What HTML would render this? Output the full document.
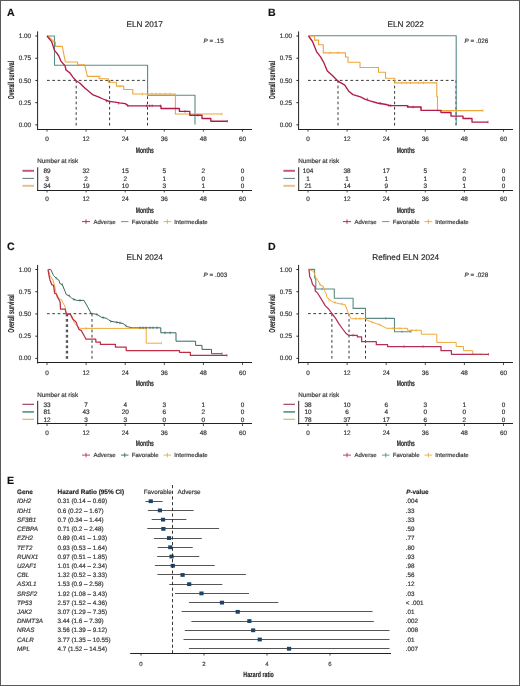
<!DOCTYPE html>
<html><head><meta charset="utf-8"><style>
html,body{margin:0;padding:0;background:#fff;}
svg{display:block;will-change:transform;text-rendering:geometricPrecision;}
svg text{stroke:#3a3a3a;stroke-width:0.18px;}
</style></head><body>
<svg width="520" height="686" viewBox="0 0 520 686" font-family='"Liberation Sans", sans-serif'>
<rect x="0" y="0" width="520" height="686" fill="#fff"/>
<g transform="translate(0,0)">
<text x="7" y="16.3" font-size="10.6" font-weight="bold" fill="#111">A</text>
<text x="144.7" y="26.8" font-size="8.2" text-anchor="middle" fill="#222">ELN 2017</text>
<text x="203.6" y="43.1" font-size="6.3" fill="#333"><tspan font-style="italic">P</tspan> = .15</text>
<path d="M37.6,31.4 V130" stroke="#222" stroke-width="1" fill="none"/>
<path d="M37.1,129.5 H252" stroke="#222" stroke-width="1" fill="none"/>
<path d="M35.4,36.00 H37.6" stroke="#222" stroke-width="1"/>
<text x="31.2" y="38.10" font-size="6.4" text-anchor="end" fill="#333">1.00</text>
<path d="M35.4,58.22 H37.6" stroke="#222" stroke-width="1"/>
<text x="31.2" y="60.32" font-size="6.4" text-anchor="end" fill="#333">0.75</text>
<path d="M35.4,80.44 H37.6" stroke="#222" stroke-width="1"/>
<text x="31.2" y="82.54" font-size="6.4" text-anchor="end" fill="#333">0.50</text>
<path d="M35.4,102.66 H37.6" stroke="#222" stroke-width="1"/>
<text x="31.2" y="104.76" font-size="6.4" text-anchor="end" fill="#333">0.25</text>
<path d="M35.4,124.88 H37.6" stroke="#222" stroke-width="1"/>
<text x="31.2" y="126.98" font-size="6.4" text-anchor="end" fill="#333">0.00</text>
<path d="M47.00,129.5 V131.6" stroke="#222" stroke-width="0.8"/>
<text x="47.00" y="141.0" font-size="6.4" text-anchor="middle" fill="#333">0</text>
<path d="M86.10,129.5 V131.6" stroke="#222" stroke-width="0.8"/>
<text x="86.10" y="141.0" font-size="6.4" text-anchor="middle" fill="#333">12</text>
<path d="M125.19,129.5 V131.6" stroke="#222" stroke-width="0.8"/>
<text x="125.19" y="141.0" font-size="6.4" text-anchor="middle" fill="#333">24</text>
<path d="M164.29,129.5 V131.6" stroke="#222" stroke-width="0.8"/>
<text x="164.29" y="141.0" font-size="6.4" text-anchor="middle" fill="#333">36</text>
<path d="M203.38,129.5 V131.6" stroke="#222" stroke-width="0.8"/>
<text x="203.38" y="141.0" font-size="6.4" text-anchor="middle" fill="#333">48</text>
<path d="M242.48,129.5 V131.6" stroke="#222" stroke-width="0.8"/>
<text x="242.48" y="141.0" font-size="6.4" text-anchor="middle" fill="#333">60</text>
<text x="144.8" y="152.7" font-size="8" font-weight="bold" text-anchor="middle" fill="#222" textLength="18" lengthAdjust="spacingAndGlyphs">Months</text>
<text transform="translate(14.2,80.1) rotate(-90)" x="0" y="0" font-size="8.6" font-weight="bold" text-anchor="middle" fill="#222" textLength="38.4" lengthAdjust="spacingAndGlyphs">Overall survival</text>
<text x="37.2" y="163.1" font-size="6.3" fill="#333">Number at risk</text>
<path d="M37.7,167.3 V190.9" stroke="#222" stroke-width="1" fill="none"/>
<path d="M37.2,190.5 H252" stroke="#222" stroke-width="1" fill="none"/>
<path d="M22.4,170.8 H34" stroke="#c45a7c" stroke-width="2.0"/>
<text x="47.00" y="173.00" font-size="6.4" text-anchor="middle" fill="#2a2a2a">89</text>
<text x="86.10" y="173.00" font-size="6.4" text-anchor="middle" fill="#2a2a2a">32</text>
<text x="125.19" y="173.00" font-size="6.4" text-anchor="middle" fill="#2a2a2a">15</text>
<text x="164.29" y="173.00" font-size="6.4" text-anchor="middle" fill="#2a2a2a">5</text>
<text x="203.38" y="173.00" font-size="6.4" text-anchor="middle" fill="#2a2a2a">2</text>
<text x="242.48" y="173.00" font-size="6.4" text-anchor="middle" fill="#2a2a2a">0</text>
<path d="M22.4,178.4 H34" stroke="#4f6a6c" stroke-width="0.9"/>
<text x="47.00" y="180.60" font-size="6.4" text-anchor="middle" fill="#2a2a2a">3</text>
<text x="86.10" y="180.60" font-size="6.4" text-anchor="middle" fill="#2a2a2a">2</text>
<text x="125.19" y="180.60" font-size="6.4" text-anchor="middle" fill="#2a2a2a">2</text>
<text x="164.29" y="180.60" font-size="6.4" text-anchor="middle" fill="#2a2a2a">1</text>
<text x="203.38" y="180.60" font-size="6.4" text-anchor="middle" fill="#2a2a2a">0</text>
<text x="242.48" y="180.60" font-size="6.4" text-anchor="middle" fill="#2a2a2a">0</text>
<path d="M22.4,185.8 H34" stroke="#e4c08e" stroke-width="2.0"/>
<text x="47.00" y="188.00" font-size="6.4" text-anchor="middle" fill="#2a2a2a">34</text>
<text x="86.10" y="188.00" font-size="6.4" text-anchor="middle" fill="#2a2a2a">19</text>
<text x="125.19" y="188.00" font-size="6.4" text-anchor="middle" fill="#2a2a2a">10</text>
<text x="164.29" y="188.00" font-size="6.4" text-anchor="middle" fill="#2a2a2a">3</text>
<text x="203.38" y="188.00" font-size="6.4" text-anchor="middle" fill="#2a2a2a">1</text>
<text x="242.48" y="188.00" font-size="6.4" text-anchor="middle" fill="#2a2a2a">0</text>
<path d="M47.00,190.4 V192.5" stroke="#222" stroke-width="0.8"/>
<text x="47.00" y="201.4" font-size="6.4" text-anchor="middle" fill="#333">0</text>
<path d="M86.10,190.4 V192.5" stroke="#222" stroke-width="0.8"/>
<text x="86.10" y="201.4" font-size="6.4" text-anchor="middle" fill="#333">12</text>
<path d="M125.19,190.4 V192.5" stroke="#222" stroke-width="0.8"/>
<text x="125.19" y="201.4" font-size="6.4" text-anchor="middle" fill="#333">24</text>
<path d="M164.29,190.4 V192.5" stroke="#222" stroke-width="0.8"/>
<text x="164.29" y="201.4" font-size="6.4" text-anchor="middle" fill="#333">36</text>
<path d="M203.38,190.4 V192.5" stroke="#222" stroke-width="0.8"/>
<text x="203.38" y="201.4" font-size="6.4" text-anchor="middle" fill="#333">48</text>
<path d="M242.48,190.4 V192.5" stroke="#222" stroke-width="0.8"/>
<text x="242.48" y="201.4" font-size="6.4" text-anchor="middle" fill="#333">60</text>
<text x="144.8" y="212.9" font-size="8" font-weight="bold" text-anchor="middle" fill="#222" textLength="18" lengthAdjust="spacingAndGlyphs">Months</text>
<path d="M82,221.6 H90 M86,219.4 V223.79999999999998" stroke="#b11c46" stroke-width="0.9"/>
<text x="93.5" y="223.7" font-size="6" fill="#333">Adverse</text>
<path d="M121,221.6 H128.5" stroke="#5a8c86" stroke-width="0.9"/>
<text x="131.8" y="223.7" font-size="6" fill="#333">Favorable</text>
<path d="M163.5,221.6 H171.2 M167.35,219.4 V223.79999999999998" stroke="#eea53a" stroke-width="0.9"/>
<text x="174.3" y="223.7" font-size="6" fill="#333">Intermediate</text>
</g>
<g transform="translate(261,0)">
<text x="7" y="16.3" font-size="10.6" font-weight="bold" fill="#111">B</text>
<text x="144.7" y="26.8" font-size="8.2" text-anchor="middle" fill="#222">ELN 2022</text>
<text x="203.6" y="43.1" font-size="6.3" fill="#333"><tspan font-style="italic">P</tspan> = .026</text>
<path d="M37.6,31.4 V130" stroke="#222" stroke-width="1" fill="none"/>
<path d="M37.1,129.5 H252" stroke="#222" stroke-width="1" fill="none"/>
<path d="M35.4,36.00 H37.6" stroke="#222" stroke-width="1"/>
<text x="31.2" y="38.10" font-size="6.4" text-anchor="end" fill="#333">1.00</text>
<path d="M35.4,58.22 H37.6" stroke="#222" stroke-width="1"/>
<text x="31.2" y="60.32" font-size="6.4" text-anchor="end" fill="#333">0.75</text>
<path d="M35.4,80.44 H37.6" stroke="#222" stroke-width="1"/>
<text x="31.2" y="82.54" font-size="6.4" text-anchor="end" fill="#333">0.50</text>
<path d="M35.4,102.66 H37.6" stroke="#222" stroke-width="1"/>
<text x="31.2" y="104.76" font-size="6.4" text-anchor="end" fill="#333">0.25</text>
<path d="M35.4,124.88 H37.6" stroke="#222" stroke-width="1"/>
<text x="31.2" y="126.98" font-size="6.4" text-anchor="end" fill="#333">0.00</text>
<path d="M47.00,129.5 V131.6" stroke="#222" stroke-width="0.8"/>
<text x="47.00" y="141.0" font-size="6.4" text-anchor="middle" fill="#333">0</text>
<path d="M86.10,129.5 V131.6" stroke="#222" stroke-width="0.8"/>
<text x="86.10" y="141.0" font-size="6.4" text-anchor="middle" fill="#333">12</text>
<path d="M125.19,129.5 V131.6" stroke="#222" stroke-width="0.8"/>
<text x="125.19" y="141.0" font-size="6.4" text-anchor="middle" fill="#333">24</text>
<path d="M164.29,129.5 V131.6" stroke="#222" stroke-width="0.8"/>
<text x="164.29" y="141.0" font-size="6.4" text-anchor="middle" fill="#333">36</text>
<path d="M203.38,129.5 V131.6" stroke="#222" stroke-width="0.8"/>
<text x="203.38" y="141.0" font-size="6.4" text-anchor="middle" fill="#333">48</text>
<path d="M242.48,129.5 V131.6" stroke="#222" stroke-width="0.8"/>
<text x="242.48" y="141.0" font-size="6.4" text-anchor="middle" fill="#333">60</text>
<text x="144.8" y="152.7" font-size="8" font-weight="bold" text-anchor="middle" fill="#222" textLength="18" lengthAdjust="spacingAndGlyphs">Months</text>
<text transform="translate(14.2,80.1) rotate(-90)" x="0" y="0" font-size="8.6" font-weight="bold" text-anchor="middle" fill="#222" textLength="38.4" lengthAdjust="spacingAndGlyphs">Overall survival</text>
<text x="37.2" y="163.1" font-size="6.3" fill="#333">Number at risk</text>
<path d="M37.7,167.3 V190.9" stroke="#222" stroke-width="1" fill="none"/>
<path d="M37.2,190.5 H252" stroke="#222" stroke-width="1" fill="none"/>
<path d="M22.4,170.8 H34" stroke="#c45a7c" stroke-width="2.0"/>
<text x="47.00" y="173.00" font-size="6.4" text-anchor="middle" fill="#2a2a2a">104</text>
<text x="86.10" y="173.00" font-size="6.4" text-anchor="middle" fill="#2a2a2a">38</text>
<text x="125.19" y="173.00" font-size="6.4" text-anchor="middle" fill="#2a2a2a">17</text>
<text x="164.29" y="173.00" font-size="6.4" text-anchor="middle" fill="#2a2a2a">5</text>
<text x="203.38" y="173.00" font-size="6.4" text-anchor="middle" fill="#2a2a2a">2</text>
<text x="242.48" y="173.00" font-size="6.4" text-anchor="middle" fill="#2a2a2a">0</text>
<path d="M22.4,178.4 H34" stroke="#4f6a6c" stroke-width="0.9"/>
<text x="47.00" y="180.60" font-size="6.4" text-anchor="middle" fill="#2a2a2a">1</text>
<text x="86.10" y="180.60" font-size="6.4" text-anchor="middle" fill="#2a2a2a">1</text>
<text x="125.19" y="180.60" font-size="6.4" text-anchor="middle" fill="#2a2a2a">1</text>
<text x="164.29" y="180.60" font-size="6.4" text-anchor="middle" fill="#2a2a2a">1</text>
<text x="203.38" y="180.60" font-size="6.4" text-anchor="middle" fill="#2a2a2a">0</text>
<text x="242.48" y="180.60" font-size="6.4" text-anchor="middle" fill="#2a2a2a">0</text>
<path d="M22.4,185.8 H34" stroke="#e4c08e" stroke-width="2.0"/>
<text x="47.00" y="188.00" font-size="6.4" text-anchor="middle" fill="#2a2a2a">21</text>
<text x="86.10" y="188.00" font-size="6.4" text-anchor="middle" fill="#2a2a2a">14</text>
<text x="125.19" y="188.00" font-size="6.4" text-anchor="middle" fill="#2a2a2a">9</text>
<text x="164.29" y="188.00" font-size="6.4" text-anchor="middle" fill="#2a2a2a">3</text>
<text x="203.38" y="188.00" font-size="6.4" text-anchor="middle" fill="#2a2a2a">1</text>
<text x="242.48" y="188.00" font-size="6.4" text-anchor="middle" fill="#2a2a2a">0</text>
<path d="M47.00,190.4 V192.5" stroke="#222" stroke-width="0.8"/>
<text x="47.00" y="201.4" font-size="6.4" text-anchor="middle" fill="#333">0</text>
<path d="M86.10,190.4 V192.5" stroke="#222" stroke-width="0.8"/>
<text x="86.10" y="201.4" font-size="6.4" text-anchor="middle" fill="#333">12</text>
<path d="M125.19,190.4 V192.5" stroke="#222" stroke-width="0.8"/>
<text x="125.19" y="201.4" font-size="6.4" text-anchor="middle" fill="#333">24</text>
<path d="M164.29,190.4 V192.5" stroke="#222" stroke-width="0.8"/>
<text x="164.29" y="201.4" font-size="6.4" text-anchor="middle" fill="#333">36</text>
<path d="M203.38,190.4 V192.5" stroke="#222" stroke-width="0.8"/>
<text x="203.38" y="201.4" font-size="6.4" text-anchor="middle" fill="#333">48</text>
<path d="M242.48,190.4 V192.5" stroke="#222" stroke-width="0.8"/>
<text x="242.48" y="201.4" font-size="6.4" text-anchor="middle" fill="#333">60</text>
<text x="144.8" y="212.9" font-size="8" font-weight="bold" text-anchor="middle" fill="#222" textLength="18" lengthAdjust="spacingAndGlyphs">Months</text>
<path d="M82,221.6 H90 M86,219.4 V223.79999999999998" stroke="#b11c46" stroke-width="0.9"/>
<text x="93.5" y="223.7" font-size="6" fill="#333">Adverse</text>
<path d="M121,221.6 H128.5" stroke="#5a8c86" stroke-width="0.9"/>
<text x="131.8" y="223.7" font-size="6" fill="#333">Favorable</text>
<path d="M163.5,221.6 H171.2 M167.35,219.4 V223.79999999999998" stroke="#eea53a" stroke-width="0.9"/>
<text x="174.3" y="223.7" font-size="6" fill="#333">Intermediate</text>
</g>
<g transform="translate(0,233.5)">
<text x="7" y="16.3" font-size="10.6" font-weight="bold" fill="#111">C</text>
<text x="144.7" y="26.8" font-size="8.2" text-anchor="middle" fill="#222">ELN 2024</text>
<text x="203.6" y="43.1" font-size="6.3" fill="#333"><tspan font-style="italic">P</tspan> = .003</text>
<path d="M37.6,31.4 V130" stroke="#222" stroke-width="1" fill="none"/>
<path d="M37.1,129.0 H252" stroke="#222" stroke-width="1" fill="none"/>
<path d="M35.4,36.00 H37.6" stroke="#222" stroke-width="1"/>
<text x="31.2" y="38.10" font-size="6.4" text-anchor="end" fill="#333">1.00</text>
<path d="M35.4,58.22 H37.6" stroke="#222" stroke-width="1"/>
<text x="31.2" y="60.32" font-size="6.4" text-anchor="end" fill="#333">0.75</text>
<path d="M35.4,80.44 H37.6" stroke="#222" stroke-width="1"/>
<text x="31.2" y="82.54" font-size="6.4" text-anchor="end" fill="#333">0.50</text>
<path d="M35.4,102.66 H37.6" stroke="#222" stroke-width="1"/>
<text x="31.2" y="104.76" font-size="6.4" text-anchor="end" fill="#333">0.25</text>
<path d="M35.4,124.88 H37.6" stroke="#222" stroke-width="1"/>
<text x="31.2" y="126.98" font-size="6.4" text-anchor="end" fill="#333">0.00</text>
<path d="M47.00,129.5 V131.6" stroke="#222" stroke-width="0.8"/>
<text x="47.00" y="141.0" font-size="6.4" text-anchor="middle" fill="#333">0</text>
<path d="M86.10,129.5 V131.6" stroke="#222" stroke-width="0.8"/>
<text x="86.10" y="141.0" font-size="6.4" text-anchor="middle" fill="#333">12</text>
<path d="M125.19,129.5 V131.6" stroke="#222" stroke-width="0.8"/>
<text x="125.19" y="141.0" font-size="6.4" text-anchor="middle" fill="#333">24</text>
<path d="M164.29,129.5 V131.6" stroke="#222" stroke-width="0.8"/>
<text x="164.29" y="141.0" font-size="6.4" text-anchor="middle" fill="#333">36</text>
<path d="M203.38,129.5 V131.6" stroke="#222" stroke-width="0.8"/>
<text x="203.38" y="141.0" font-size="6.4" text-anchor="middle" fill="#333">48</text>
<path d="M242.48,129.5 V131.6" stroke="#222" stroke-width="0.8"/>
<text x="242.48" y="141.0" font-size="6.4" text-anchor="middle" fill="#333">60</text>
<text x="144.8" y="152.7" font-size="8" font-weight="bold" text-anchor="middle" fill="#222" textLength="18" lengthAdjust="spacingAndGlyphs">Months</text>
<text transform="translate(14.2,80.1) rotate(-90)" x="0" y="0" font-size="8.6" font-weight="bold" text-anchor="middle" fill="#222" textLength="38.4" lengthAdjust="spacingAndGlyphs">Overall survival</text>
<text x="37.2" y="163.1" font-size="6.3" fill="#333">Number at risk</text>
<path d="M37.7,167.3 V190.9" stroke="#222" stroke-width="1" fill="none"/>
<path d="M37.2,190.0 H252" stroke="#222" stroke-width="1" fill="none"/>
<path d="M22.4,170.8 H34" stroke="#9a3553" stroke-width="1.1"/>
<text x="47.00" y="173.00" font-size="6.4" text-anchor="middle" fill="#2a2a2a">33</text>
<text x="86.10" y="173.00" font-size="6.4" text-anchor="middle" fill="#2a2a2a">7</text>
<text x="125.19" y="173.00" font-size="6.4" text-anchor="middle" fill="#2a2a2a">4</text>
<text x="164.29" y="173.00" font-size="6.4" text-anchor="middle" fill="#2a2a2a">3</text>
<text x="203.38" y="173.00" font-size="6.4" text-anchor="middle" fill="#2a2a2a">1</text>
<text x="242.48" y="173.00" font-size="6.4" text-anchor="middle" fill="#2a2a2a">0</text>
<path d="M22.4,178.4 H34" stroke="#5f968c" stroke-width="1.7"/>
<text x="47.00" y="180.60" font-size="6.4" text-anchor="middle" fill="#2a2a2a">81</text>
<text x="86.10" y="180.60" font-size="6.4" text-anchor="middle" fill="#2a2a2a">43</text>
<text x="125.19" y="180.60" font-size="6.4" text-anchor="middle" fill="#2a2a2a">20</text>
<text x="164.29" y="180.60" font-size="6.4" text-anchor="middle" fill="#2a2a2a">6</text>
<text x="203.38" y="180.60" font-size="6.4" text-anchor="middle" fill="#2a2a2a">2</text>
<text x="242.48" y="180.60" font-size="6.4" text-anchor="middle" fill="#2a2a2a">0</text>
<path d="M22.4,185.8 H34" stroke="#d4b060" stroke-width="1.1"/>
<text x="47.00" y="188.00" font-size="6.4" text-anchor="middle" fill="#2a2a2a">12</text>
<text x="86.10" y="188.00" font-size="6.4" text-anchor="middle" fill="#2a2a2a">3</text>
<text x="125.19" y="188.00" font-size="6.4" text-anchor="middle" fill="#2a2a2a">3</text>
<text x="164.29" y="188.00" font-size="6.4" text-anchor="middle" fill="#2a2a2a">0</text>
<text x="203.38" y="188.00" font-size="6.4" text-anchor="middle" fill="#2a2a2a">0</text>
<text x="242.48" y="188.00" font-size="6.4" text-anchor="middle" fill="#2a2a2a">0</text>
<path d="M47.00,190.4 V192.5" stroke="#222" stroke-width="0.8"/>
<text x="47.00" y="201.4" font-size="6.4" text-anchor="middle" fill="#333">0</text>
<path d="M86.10,190.4 V192.5" stroke="#222" stroke-width="0.8"/>
<text x="86.10" y="201.4" font-size="6.4" text-anchor="middle" fill="#333">12</text>
<path d="M125.19,190.4 V192.5" stroke="#222" stroke-width="0.8"/>
<text x="125.19" y="201.4" font-size="6.4" text-anchor="middle" fill="#333">24</text>
<path d="M164.29,190.4 V192.5" stroke="#222" stroke-width="0.8"/>
<text x="164.29" y="201.4" font-size="6.4" text-anchor="middle" fill="#333">36</text>
<path d="M203.38,190.4 V192.5" stroke="#222" stroke-width="0.8"/>
<text x="203.38" y="201.4" font-size="6.4" text-anchor="middle" fill="#333">48</text>
<path d="M242.48,190.4 V192.5" stroke="#222" stroke-width="0.8"/>
<text x="242.48" y="201.4" font-size="6.4" text-anchor="middle" fill="#333">60</text>
<text x="144.8" y="212.9" font-size="8" font-weight="bold" text-anchor="middle" fill="#222" textLength="18" lengthAdjust="spacingAndGlyphs">Months</text>
<path d="M82,221.6 H90 M86,219.4 V223.79999999999998" stroke="#bd2f47" stroke-width="0.9"/>
<text x="93.5" y="223.7" font-size="6" fill="#333">Adverse</text>
<path d="M121,221.6 H128.5 M124.75,219.4 V223.79999999999998" stroke="#36675e" stroke-width="0.9"/>
<text x="131.8" y="223.7" font-size="6" fill="#333">Favorable</text>
<path d="M163.5,221.6 H171.2 M167.35,219.4 V223.79999999999998" stroke="#f0aa3a" stroke-width="0.9"/>
<text x="174.3" y="223.7" font-size="6" fill="#333">Intermediate</text>
</g>
<g transform="translate(261,233.5)">
<text x="7" y="16.3" font-size="10.6" font-weight="bold" fill="#111">D</text>
<text x="144.7" y="26.8" font-size="8.2" text-anchor="middle" fill="#222">Refined ELN 2024</text>
<text x="203.6" y="43.1" font-size="6.3" fill="#333"><tspan font-style="italic">P</tspan> = .028</text>
<path d="M37.6,31.4 V130" stroke="#222" stroke-width="1" fill="none"/>
<path d="M37.1,129.0 H252" stroke="#222" stroke-width="1" fill="none"/>
<path d="M35.4,36.00 H37.6" stroke="#222" stroke-width="1"/>
<text x="31.2" y="38.10" font-size="6.4" text-anchor="end" fill="#333">1.00</text>
<path d="M35.4,58.22 H37.6" stroke="#222" stroke-width="1"/>
<text x="31.2" y="60.32" font-size="6.4" text-anchor="end" fill="#333">0.75</text>
<path d="M35.4,80.44 H37.6" stroke="#222" stroke-width="1"/>
<text x="31.2" y="82.54" font-size="6.4" text-anchor="end" fill="#333">0.50</text>
<path d="M35.4,102.66 H37.6" stroke="#222" stroke-width="1"/>
<text x="31.2" y="104.76" font-size="6.4" text-anchor="end" fill="#333">0.25</text>
<path d="M35.4,124.88 H37.6" stroke="#222" stroke-width="1"/>
<text x="31.2" y="126.98" font-size="6.4" text-anchor="end" fill="#333">0.00</text>
<path d="M47.00,129.5 V131.6" stroke="#222" stroke-width="0.8"/>
<text x="47.00" y="141.0" font-size="6.4" text-anchor="middle" fill="#333">0</text>
<path d="M86.10,129.5 V131.6" stroke="#222" stroke-width="0.8"/>
<text x="86.10" y="141.0" font-size="6.4" text-anchor="middle" fill="#333">12</text>
<path d="M125.19,129.5 V131.6" stroke="#222" stroke-width="0.8"/>
<text x="125.19" y="141.0" font-size="6.4" text-anchor="middle" fill="#333">24</text>
<path d="M164.29,129.5 V131.6" stroke="#222" stroke-width="0.8"/>
<text x="164.29" y="141.0" font-size="6.4" text-anchor="middle" fill="#333">36</text>
<path d="M203.38,129.5 V131.6" stroke="#222" stroke-width="0.8"/>
<text x="203.38" y="141.0" font-size="6.4" text-anchor="middle" fill="#333">48</text>
<path d="M242.48,129.5 V131.6" stroke="#222" stroke-width="0.8"/>
<text x="242.48" y="141.0" font-size="6.4" text-anchor="middle" fill="#333">60</text>
<text x="144.8" y="152.7" font-size="8" font-weight="bold" text-anchor="middle" fill="#222" textLength="18" lengthAdjust="spacingAndGlyphs">Months</text>
<text transform="translate(14.2,80.1) rotate(-90)" x="0" y="0" font-size="8.6" font-weight="bold" text-anchor="middle" fill="#222" textLength="38.4" lengthAdjust="spacingAndGlyphs">Overall survival</text>
<text x="37.2" y="163.1" font-size="6.3" fill="#333">Number at risk</text>
<path d="M37.7,167.3 V190.9" stroke="#222" stroke-width="1" fill="none"/>
<path d="M37.2,190.0 H252" stroke="#222" stroke-width="1" fill="none"/>
<path d="M22.4,170.8 H34" stroke="#9a3553" stroke-width="1.1"/>
<text x="47.00" y="173.00" font-size="6.4" text-anchor="middle" fill="#2a2a2a">38</text>
<text x="86.10" y="173.00" font-size="6.4" text-anchor="middle" fill="#2a2a2a">10</text>
<text x="125.19" y="173.00" font-size="6.4" text-anchor="middle" fill="#2a2a2a">6</text>
<text x="164.29" y="173.00" font-size="6.4" text-anchor="middle" fill="#2a2a2a">3</text>
<text x="203.38" y="173.00" font-size="6.4" text-anchor="middle" fill="#2a2a2a">1</text>
<text x="242.48" y="173.00" font-size="6.4" text-anchor="middle" fill="#2a2a2a">0</text>
<path d="M22.4,178.4 H34" stroke="#5f968c" stroke-width="1.7"/>
<text x="47.00" y="180.60" font-size="6.4" text-anchor="middle" fill="#2a2a2a">10</text>
<text x="86.10" y="180.60" font-size="6.4" text-anchor="middle" fill="#2a2a2a">6</text>
<text x="125.19" y="180.60" font-size="6.4" text-anchor="middle" fill="#2a2a2a">4</text>
<text x="164.29" y="180.60" font-size="6.4" text-anchor="middle" fill="#2a2a2a">0</text>
<text x="203.38" y="180.60" font-size="6.4" text-anchor="middle" fill="#2a2a2a">0</text>
<text x="242.48" y="180.60" font-size="6.4" text-anchor="middle" fill="#2a2a2a">0</text>
<path d="M22.4,185.8 H34" stroke="#d4b060" stroke-width="1.1"/>
<text x="47.00" y="188.00" font-size="6.4" text-anchor="middle" fill="#2a2a2a">78</text>
<text x="86.10" y="188.00" font-size="6.4" text-anchor="middle" fill="#2a2a2a">37</text>
<text x="125.19" y="188.00" font-size="6.4" text-anchor="middle" fill="#2a2a2a">17</text>
<text x="164.29" y="188.00" font-size="6.4" text-anchor="middle" fill="#2a2a2a">6</text>
<text x="203.38" y="188.00" font-size="6.4" text-anchor="middle" fill="#2a2a2a">2</text>
<text x="242.48" y="188.00" font-size="6.4" text-anchor="middle" fill="#2a2a2a">0</text>
<path d="M47.00,190.4 V192.5" stroke="#222" stroke-width="0.8"/>
<text x="47.00" y="201.4" font-size="6.4" text-anchor="middle" fill="#333">0</text>
<path d="M86.10,190.4 V192.5" stroke="#222" stroke-width="0.8"/>
<text x="86.10" y="201.4" font-size="6.4" text-anchor="middle" fill="#333">12</text>
<path d="M125.19,190.4 V192.5" stroke="#222" stroke-width="0.8"/>
<text x="125.19" y="201.4" font-size="6.4" text-anchor="middle" fill="#333">24</text>
<path d="M164.29,190.4 V192.5" stroke="#222" stroke-width="0.8"/>
<text x="164.29" y="201.4" font-size="6.4" text-anchor="middle" fill="#333">36</text>
<path d="M203.38,190.4 V192.5" stroke="#222" stroke-width="0.8"/>
<text x="203.38" y="201.4" font-size="6.4" text-anchor="middle" fill="#333">48</text>
<path d="M242.48,190.4 V192.5" stroke="#222" stroke-width="0.8"/>
<text x="242.48" y="201.4" font-size="6.4" text-anchor="middle" fill="#333">60</text>
<text x="144.8" y="212.9" font-size="8" font-weight="bold" text-anchor="middle" fill="#222" textLength="18" lengthAdjust="spacingAndGlyphs">Months</text>
<path d="M82,221.6 H90 M86,219.4 V223.79999999999998" stroke="#b3305a" stroke-width="0.9"/>
<text x="93.5" y="223.7" font-size="6" fill="#333">Adverse</text>
<path d="M121,221.6 H128.5 M124.75,219.4 V223.79999999999998" stroke="#5b8a86" stroke-width="0.9"/>
<text x="131.8" y="223.7" font-size="6" fill="#333">Favorable</text>
<path d="M163.5,221.6 H171.2 M167.35,219.4 V223.79999999999998" stroke="#f0a935" stroke-width="0.9"/>
<text x="174.3" y="223.7" font-size="6" fill="#333">Intermediate</text>
</g>
<path d="M47,80.4 H147.5 M76.2,80.4 V125.5 M109.6,80.4 V125.5 M147.5,80.4 V125.5" stroke="#222" stroke-width="0.9" fill="none" stroke-dasharray="2.7,2.6"/>
<path d="M47,36 H54.5 V65.3 H147.6 V95.3 H195 V124.6" stroke="#5a8c86" stroke-width="1.1" fill="none" stroke-linejoin="round"/>
<path d="M47,36 H49 V38 H51 V40 H53 V42 H55.5 V46.4 H62.3 L65.3,62 H77.6 V64.7 H84.6 L87.4,76.4 H99 V78.8 H108.4 V82.2 H116.4 V86.1 H123.7 V89.5 H132.8 V94 H175.4 V114 H222" stroke="#eea53a" stroke-width="1.1" fill="none" stroke-linejoin="round"/>
<path d="M47.0,36.0 L51.6,41.6 L54.5,50.3 L56.4,52.7 L58.8,56.0 L60.8,60.8 L62.7,63.2 L65.0,65.6 L66.0,70.0 L69.9,72.9 L72.9,77.1 L75.8,80.5 L80.0,83.2 L85.1,88.3 L88.7,91.2 L93.1,94.9 L99.0,97.1 L101.9,98.5 L105.5,100.0 L109.2,101.4 L115.0,102.2 L119.4,102.9 L125.2,103.6 L128.1,105.8 H161 V108.5 H179.4 V111.4 H189.8 V115.2 H202 V118.5 H210.8 V121.2 H227.4" stroke="#b11c46" stroke-width="1.35" fill="none" stroke-linejoin="round"/>
<path d="M227.4,119.9 V122.5 M106.4,99.7 V102.3 M109.7,100.3 V102.9 M118.7,102.0 V104.6 M127.7,104.3 V106.9 M146.5,104.5 V107.1 M149.7,104.5 V107.1 M152.2,104.5 V107.1 M160.4,104.5 V107.1 M185.0,110.1 V112.7 M198.0,113.9 V116.5" stroke="#b11c46" stroke-width="0.7" fill="none"/>
<path d="M222.0,112.7 V115.3 M142.4,92.7 V95.3 M147.3,92.7 V95.3 M152.0,92.7 V95.3 M156.0,92.7 V95.3 M160.0,92.7 V95.3 M165.0,92.7 V95.3 M170.0,92.7 V95.3 M100.0,75.1 V77.7 M120.0,84.8 V87.4" stroke="#eea53a" stroke-width="0.7" fill="none"/>
<path d="M308,80.4 H456 M338,80.4 V125.5 M394.6,80.4 V125.5 M456,80.4 V125.5" stroke="#222" stroke-width="0.9" fill="none" stroke-dasharray="2.7,2.6"/>
<path d="M308.5,35.8 H456.2 V124.9" stroke="#5a8c86" stroke-width="1.1" fill="none" stroke-linejoin="round"/>
<path d="M308.5,36 H314.5 V40.1 H318.6 V44.8 H323.3 V52.9 H345.5 V57 H348 V62.3 H360 V67.5 H378.5 V72.3 H385.5 V78.2 H394.8 V82.9 H436.8 V96.5 H437.5 V110.6 H483" stroke="#eea53a" stroke-width="1.1" fill="none" stroke-linejoin="round"/>
<path d="M308.5,36.0 L312.5,41.5 L316.5,51.6 L320.6,56.9 L324.0,63.0 L327.3,71.0 L332.7,75.8 L338.0,81.2 L344.8,85.2 L348.8,91.3 L352.9,94.6 L359.6,96.6 L361.0,97.1 L365.4,99.3 L369.9,100.8 L377.3,103.0 L386.2,104.5 L389.2,105.6 H407.5 V107 H421 V110.3 H441 V112.5 H451 V116.1 H463 V118.5 H472 V122.1 H488" stroke="#b11c46" stroke-width="1.35" fill="none" stroke-linejoin="round"/>
<path d="M367.3,97.7 V100.3 M380.3,102.1 V104.7 M388.9,104.1 V106.7 M390.7,104.3 V106.9 M408.0,105.1 V107.7 M413.1,105.7 V108.3 M421.0,106.7 V109.3 M488.0,120.8 V123.4" stroke="#b11c46" stroke-width="0.7" fill="none"/>
<path d="M401.9,81.6 V84.2 M406.2,81.6 V84.2 M410.6,81.6 V84.2 M418.3,81.6 V84.2 M423.5,81.6 V84.2 M483.0,109.3 V111.9 M338.0,51.6 V54.2 M330.0,51.6 V54.2" stroke="#eea53a" stroke-width="0.7" fill="none"/>
<path d="M47,313.7 H92 M66.3,313.7 V359 M67.6,313.7 V359 M92,313.7 V359" stroke="#222" stroke-width="0.9" fill="none" stroke-dasharray="2.7,2.6"/>
<path d="M48.1,269.4 L50.8,269.4 L53.5,275.5 L56.2,278.2 L58.8,280.0 L59.9,283.5 L62.3,284.7 L65.2,291.7 L66.3,294.6 L69.3,295.8 L72.2,298.7 L76.9,300.4 L84.0,300.4 L87.7,306.9 L91.1,313.3 L96.9,314.4 L101.5,317.3 L106.2,318.2 L108.4,319.6 L110.7,321.3 L116.9,322.3 L123.0,323.5 L126.9,326.6 L132.3,327.8 H160.8 V332.8 H176 V341.2 H195.6 V345.4 H202 V349.4 H211.5 V353.7 H222" stroke="#36675e" stroke-width="1.0" fill="none" stroke-linejoin="round"/>
<path d="M48.5,269.4 L50.0,275.5 L52.9,280.0 L54.7,285.8 L55.8,291.7 L57.3,298.1 L61.7,299.8 L62.6,302.2 L65.2,306.9 L65.8,312.7 L69.3,313.9 L72.2,316.2 L73.8,321.9 L77.3,326.5 L80.2,328.4 H146.2 V343.2 H161.5" stroke="#f0aa3a" stroke-width="1.0" fill="none" stroke-linejoin="round"/>
<path d="M48.0,269.4 L49.0,275.5 L50.0,280.0 L51.8,284.7 L53.5,285.3 L54.7,293.4 L56.4,294.0 L58.8,299.3 L60.2,302.2 L60.5,309.2 L65.2,309.2 L66.3,313.8 L70.4,314.4 L72.7,319.0 L76.1,321.9 L77.3,325.4 L79.0,329.4 L81.3,330.6 L84.2,335.8 L86.0,339.2 H95.8 V342.1 H100.4 V344.4 H115.4 V347.1 H126.2 V350.5 H179.5 V352.3 H190.4 V355.4 H227" stroke="#bd2f47" stroke-width="1.25" fill="none" stroke-linejoin="round"/>
<path d="M140.0,326.5 V329.1 M143.0,326.5 V329.1 M146.0,326.5 V329.1 M150.0,326.5 V329.1 M153.0,326.5 V329.1 M157.0,326.5 V329.1 M222.0,352.4 V355.0 M56.2,276.9 V279.5 M62.3,283.4 V286.0 M69.3,294.5 V297.1 M74.0,298.2 V300.8 M80.0,299.1 V301.7 M96.9,313.1 V315.7 M103.0,316.3 V318.9 M110.7,320.0 V322.6 M116.9,321.0 V323.6 M120.0,321.6 V324.2 M126.0,324.5 V327.1 M165.0,331.5 V334.1 M170.0,331.5 V334.1" stroke="#36675e" stroke-width="0.7" fill="none"/>
<path d="M161.5,341.9 V344.5 M92.0,327.1 V329.7 M86.0,327.1 V329.7" stroke="#f0aa3a" stroke-width="0.7" fill="none"/>
<path d="M227.0,354.1 V356.7" stroke="#bd2f47" stroke-width="0.7" fill="none"/>
<path d="M308,313.6 H365.5 M331.9,313.6 V359 M349,313.6 V359 M365.5,313.6 V359" stroke="#222" stroke-width="0.9" fill="none" stroke-dasharray="2.7,2.6"/>
<path d="M308.6,269.4 H314.6 V277.5 L315.8,279.4 V289 H334.3 V298.3 H353.1 V308.4 H365.5 V318.4 H394.5 V331.7 H411" stroke="#5b8a86" stroke-width="1.1" fill="none" stroke-linejoin="round"/>
<path d="M308.6,269.4 L313.7,271.3 L315.6,277.5 L318.0,280.4 L320.4,285.2 L323.3,286.2 L324.2,290.0 L326.2,293.8 L327.2,297.7 L332.3,301.7 L339.0,303.7 L345.2,304.5 L348.7,314.4 L351.2,318.7 H366 V319.6 L372,322.2 L379.8,324.8 L386.7,328.3 H407.5 V330.3 H421.3 V334.2 H436.8 V342.4 H456.2 V346.5 H463.5 V350.7 H472.7 V354.3 H483" stroke="#f0a935" stroke-width="1.0" fill="none" stroke-linejoin="round"/>
<path d="M308.9,269.4 L309.3,272.2 L309.8,277.0 L311.2,279.4 L312.2,283.3 L313.2,285.2 L314.9,286.6 L315.3,291.0 L317.5,292.9 L318.5,294.5 L321.9,300.1 L325.4,305.9 L328.9,309.3 L332.3,314.0 L335.8,318.6 L339.3,324.4 L342.7,329.0 L346.2,333.6 L348.5,335.3 H357.3 V336.9 H361.6 V341.7 H376.3 V344.7 H387.6 V346.5 H441 V350.7 H451.4 V354.3 H488.6" stroke="#b3305a" stroke-width="1.25" fill="none" stroke-linejoin="round"/>
<path d="M385.8,317.1 V319.7 M402.0,330.4 V333.0 M411.0,330.4 V333.0 M322.0,287.6 V290.2" stroke="#5b8a86" stroke-width="0.7" fill="none"/>
<path d="M483.0,353.0 V355.6 M478.0,353.0 V355.6 M400.0,327.0 V329.6 M393.0,327.0 V329.6 M329.0,299.2 V301.8 M335.0,301.3 V303.9 M342.0,302.8 V305.4 M356.0,317.4 V320.0 M360.0,317.4 V320.0 M372.0,320.9 V323.5 M380.0,323.5 V326.1 M412.0,329.0 V331.6 M416.0,329.0 V331.6 M320.0,283.0 V285.6" stroke="#f0a935" stroke-width="0.7" fill="none"/>
<path d="M488.6,353.0 V355.6 M404.0,345.2 V347.8 M423.0,345.2 V347.8 M353.0,333.9 V336.5" stroke="#b3305a" stroke-width="0.7" fill="none"/>
<text x="7" y="483.8" font-size="10.6" font-weight="bold" fill="#111">E</text>
<text x="17" y="494.2" font-size="6.3" font-weight="bold" fill="#222">Gene</text>
<text x="57.5" y="494.2" font-size="6.45" font-weight="bold" fill="#222">Hazard Ratio (95% CI)</text>
<text x="406.2" y="494.1" font-size="6.3" font-weight="bold" fill="#222"><tspan font-style="italic">P</tspan>-value</text>
<text x="143.7" y="493.6" font-size="6.3" fill="#333">Favorable</text>
<text x="177.5" y="493.6" font-size="6.3" fill="#333">Adverse</text>
<text x="17" y="503.40" font-size="6.3" font-style="italic" fill="#333">IDH2</text>
<text x="57.5" y="503.40" font-size="6.3" fill="#333">0.31 (0.14 – 0.69)</text>
<text x="405.8" y="503.40" font-size="6.3" fill="#333">.004</text>
<path d="M145.4,501.50 H162.7" stroke="#555" stroke-width="1"/>
<rect x="148.66" y="499.30" width="4.2" height="3.8" fill="#1d4468"/>
<text x="17" y="512.62" font-size="6.3" font-style="italic" fill="#333">IDH1</text>
<text x="57.5" y="512.62" font-size="6.3" fill="#333">0.6 (0.22 – 1.67)</text>
<text x="405.8" y="512.62" font-size="6.3" fill="#333">.33</text>
<path d="M147.9,510.50 H193.6" stroke="#555" stroke-width="1"/>
<rect x="157.80" y="508.52" width="4.2" height="3.8" fill="#1d4468"/>
<text x="17" y="521.84" font-size="6.3" font-style="italic" fill="#333">SF3B1</text>
<text x="57.5" y="521.84" font-size="6.3" fill="#333">0.7 (0.34 – 1.44)</text>
<text x="405.8" y="521.84" font-size="6.3" fill="#333">.33</text>
<path d="M151.7,519.50 H186.4" stroke="#555" stroke-width="1"/>
<rect x="160.95" y="517.74" width="4.2" height="3.8" fill="#1d4468"/>
<text x="17" y="531.06" font-size="6.3" font-style="italic" fill="#333">CEBPA</text>
<text x="57.5" y="531.06" font-size="6.3" fill="#333">0.71 (0.2 – 2.48)</text>
<text x="405.8" y="531.06" font-size="6.3" fill="#333">.59</text>
<path d="M147.3,528.50 H219.1" stroke="#555" stroke-width="1"/>
<rect x="161.27" y="526.96" width="4.2" height="3.8" fill="#1d4468"/>
<text x="17" y="540.28" font-size="6.3" font-style="italic" fill="#333">EZH2</text>
<text x="57.5" y="540.28" font-size="6.3" fill="#333">0.89 (0.41 – 1.93)</text>
<text x="405.8" y="540.28" font-size="6.3" fill="#333">.77</text>
<path d="M153.9,538.50 H201.8" stroke="#555" stroke-width="1"/>
<rect x="166.94" y="536.18" width="4.2" height="3.8" fill="#1d4468"/>
<text x="17" y="549.50" font-size="6.3" font-style="italic" fill="#333">TET2</text>
<text x="57.5" y="549.50" font-size="6.3" fill="#333">0.93 (0.53 – 1.64)</text>
<text x="405.8" y="549.50" font-size="6.3" fill="#333">.80</text>
<path d="M157.7,547.50 H192.7" stroke="#555" stroke-width="1"/>
<rect x="168.20" y="545.40" width="4.2" height="3.8" fill="#1d4468"/>
<text x="17" y="558.72" font-size="6.3" font-style="italic" fill="#333">RUNX1</text>
<text x="57.5" y="558.72" font-size="6.3" fill="#333">0.97 (0.51 – 1.85)</text>
<text x="405.8" y="558.72" font-size="6.3" fill="#333">.93</text>
<path d="M157.1,556.50 H199.3" stroke="#555" stroke-width="1"/>
<rect x="169.46" y="554.62" width="4.2" height="3.8" fill="#1d4468"/>
<text x="17" y="567.94" font-size="6.3" font-style="italic" fill="#333">U2AF1</text>
<text x="57.5" y="567.94" font-size="6.3" fill="#333">1.01 (0.44 – 2.34)</text>
<text x="405.8" y="567.94" font-size="6.3" fill="#333">.98</text>
<path d="M154.9,565.50 H214.7" stroke="#555" stroke-width="1"/>
<rect x="170.72" y="563.84" width="4.2" height="3.8" fill="#1d4468"/>
<text x="17" y="577.16" font-size="6.3" font-style="italic" fill="#333">CBL</text>
<text x="57.5" y="577.16" font-size="6.3" fill="#333">1.32 (0.52 – 3.33)</text>
<text x="405.8" y="577.16" font-size="6.3" fill="#333">.56</text>
<path d="M157.4,574.50 H245.9" stroke="#555" stroke-width="1"/>
<rect x="180.48" y="573.06" width="4.2" height="3.8" fill="#1d4468"/>
<text x="17" y="586.38" font-size="6.3" font-style="italic" fill="#333">ASXL1</text>
<text x="57.5" y="586.38" font-size="6.3" fill="#333">1.53 (0.9 – 2.58)</text>
<text x="405.8" y="586.38" font-size="6.3" fill="#333">.12</text>
<path d="M169.3,584.50 H222.3" stroke="#555" stroke-width="1"/>
<rect x="187.09" y="582.28" width="4.2" height="3.8" fill="#1d4468"/>
<text x="17" y="595.60" font-size="6.3" font-style="italic" fill="#333">SRSF2</text>
<text x="57.5" y="595.60" font-size="6.3" fill="#333">1.92 (1.08 – 3.43)</text>
<text x="405.8" y="595.60" font-size="6.3" fill="#333">.03</text>
<path d="M175.0,593.50 H249.0" stroke="#555" stroke-width="1"/>
<rect x="199.38" y="591.50" width="4.2" height="3.8" fill="#1d4468"/>
<text x="17" y="604.82" font-size="6.3" font-style="italic" fill="#333">TP53</text>
<text x="57.5" y="604.82" font-size="6.3" fill="#333">2.57 (1.52 – 4.36)</text>
<text x="405.8" y="604.82" font-size="6.3" fill="#333">< .001</text>
<path d="M188.9,602.50 H278.3" stroke="#555" stroke-width="1"/>
<rect x="219.85" y="600.72" width="4.2" height="3.8" fill="#1d4468"/>
<text x="17" y="614.04" font-size="6.3" font-style="italic" fill="#333">JAK2</text>
<text x="57.5" y="614.04" font-size="6.3" fill="#333">3.07 (1.29 – 7.35)</text>
<text x="405.8" y="614.04" font-size="6.3" fill="#333">.01</text>
<path d="M181.6,611.50 H372.5" stroke="#555" stroke-width="1"/>
<rect x="235.60" y="609.94" width="4.2" height="3.8" fill="#1d4468"/>
<text x="17" y="623.26" font-size="6.3" font-style="italic" fill="#333">DNMT3A</text>
<text x="57.5" y="623.26" font-size="6.3" fill="#333">3.44 (1.6 – 7.39)</text>
<text x="405.8" y="623.26" font-size="6.3" fill="#333">.002</text>
<path d="M191.4,621.50 H373.8" stroke="#555" stroke-width="1"/>
<rect x="247.26" y="619.16" width="4.2" height="3.8" fill="#1d4468"/>
<text x="17" y="632.48" font-size="6.3" font-style="italic" fill="#333">NRAS</text>
<text x="57.5" y="632.48" font-size="6.3" fill="#333">3.56 (1.39 – 9.12)</text>
<text x="405.8" y="632.48" font-size="6.3" fill="#333">.008</text>
<path d="M184.8,630.50 H389.5" stroke="#555" stroke-width="1"/>
<rect x="251.04" y="628.38" width="4.2" height="3.8" fill="#1d4468"/>
<text x="17" y="641.70" font-size="6.3" font-style="italic" fill="#333">CALR</text>
<text x="57.5" y="641.70" font-size="6.3" fill="#333">3.77 (1.35 – 10.55)</text>
<text x="405.8" y="641.70" font-size="6.3" fill="#333">.01</text>
<path d="M183.5,639.50 H389.5" stroke="#555" stroke-width="1"/>
<rect x="257.65" y="637.60" width="4.2" height="3.8" fill="#1d4468"/>
<text x="17" y="650.92" font-size="6.3" font-style="italic" fill="#333">MPL</text>
<text x="57.5" y="650.92" font-size="6.3" fill="#333">4.7 (1.52 – 14.54)</text>
<text x="405.8" y="650.92" font-size="6.3" fill="#333">.007</text>
<path d="M188.9,648.50 H389.5" stroke="#555" stroke-width="1"/>
<rect x="286.95" y="646.82" width="4.2" height="3.8" fill="#1d4468"/>
<path d="M172.5,485 V653" stroke="#222" stroke-width="0.9" stroke-dasharray="3.2,2.5"/>
<path d="M130.2,653.5 H391" stroke="#222" stroke-width="1"/>
<path d="M141.00,653.5 V655.6" stroke="#222" stroke-width="0.8"/>
<text x="141.00" y="665.9" font-size="6" text-anchor="middle" fill="#444">0</text>
<path d="M204.00,653.5 V655.6" stroke="#222" stroke-width="0.8"/>
<text x="204.00" y="665.9" font-size="6" text-anchor="middle" fill="#444">2</text>
<path d="M267.00,653.5 V655.6" stroke="#222" stroke-width="0.8"/>
<text x="267.00" y="665.9" font-size="6" text-anchor="middle" fill="#444">4</text>
<path d="M330.00,653.5 V655.6" stroke="#222" stroke-width="0.8"/>
<text x="330.00" y="665.9" font-size="6" text-anchor="middle" fill="#444">6</text>
<text x="258.6" y="677.4" font-size="7.6" font-weight="bold" text-anchor="middle" fill="#222" textLength="30.5" lengthAdjust="spacingAndGlyphs">Hazard ratio</text>
<rect x="0.5" y="0.5" width="519" height="685" fill="none" stroke="#5a5a5a" stroke-width="1"/>
</svg>
</body></html>
